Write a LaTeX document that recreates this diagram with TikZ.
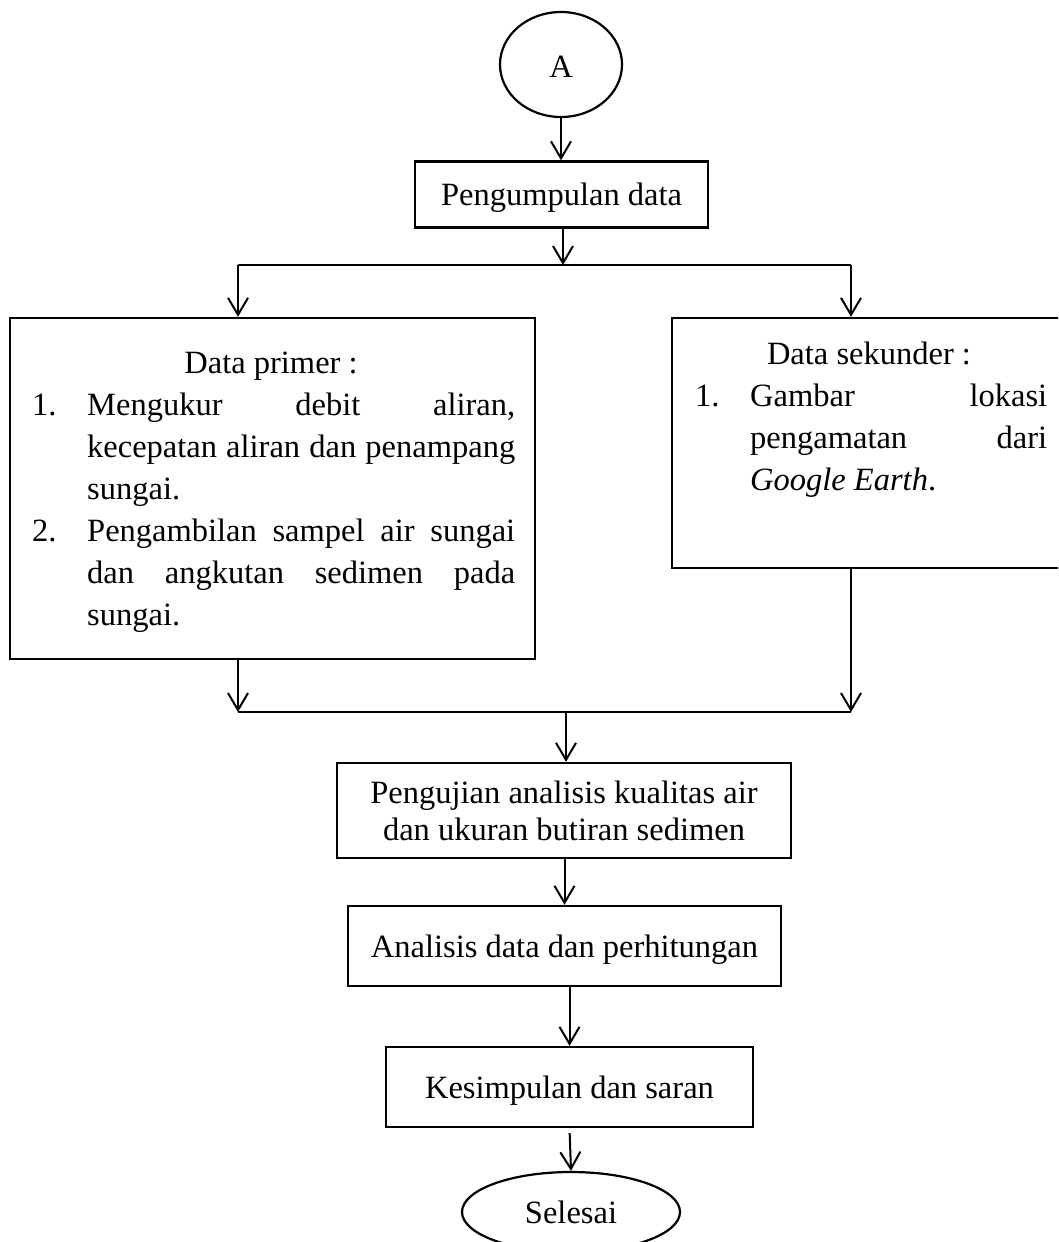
\documentclass[tikz,border=0pt]{standalone}
\usepackage{fontspec}
\setmainfont{Liberation Serif}
\usetikzlibrary{shapes.geometric,arrows.meta}
\tikzset{
  box/.style={draw, line width=2.4pt, rectangle, inner sep=0pt},
  oval/.style={draw, line width=2.2pt, ellipse, inner sep=0pt},
  wordtext/.style={text height=29pt, text depth=7pt},
  arr/.style={line width=2pt, -{Straight Barb[length=17pt,width=20pt]}},
  link/.style={line width=1.6pt},
  txt/.style={inner sep=0pt}
}
\newcommand{\jline}[2]{\makebox[#1][s]{#2}}
\begin{document}
\begin{tikzpicture}[x=1pt,y=-1pt,font=\fontsize{32.5}{42}\selectfont]
\useasboundingbox (0,0) rectangle (1058,1242);
\clip (0,0) rectangle (1058,1242);

% start
\node[oval, minimum width=122pt, minimum height=105pt, text height=33pt, text depth=7pt] (A) at (561,64.5) {A};
\node[box, wordtext, minimum width=293pt, minimum height=66pt] (kumpul) at (561.5,194.5) {Pengumpulan data};

% split
\coordinate (hL) at (238,265);
\coordinate (hR) at (851,265);
\coordinate (hC) at (563,265);

% data boxes
\node[box, minimum width=525pt, minimum height=341pt] (primer) at (272.5,488.5) {};
\node[box, minimum width=398pt, minimum height=250pt] (sekunder) at (871,443) {};

% primer text
\node[txt, anchor=base] (p0) at (271,373) {Data primer :};
\node[txt, anchor=base west] (p1) at (32,415) {\makebox[55pt][l]{1.}\parbox[t]{428pt}{\jline{428pt}{Mengukur debit aliran,}\\\jline{428pt}{kecepatan aliran dan penampang}\\sungai.}};
\node[txt, anchor=base west] (p2) at (32,541) {\makebox[55pt][l]{2.}\parbox[t]{428pt}{\jline{428pt}{Pengambilan sampel air sungai}\\\jline{428pt}{dan angkutan sedimen pada}\\sungai.}};

% sekunder text
\node[txt, anchor=base] (s0) at (869,364) {Data sekunder :};
\node[txt, anchor=base west] (s1) at (695,406) {\makebox[55pt][l]{1.}\parbox[t]{297pt}{\jline{297pt}{Gambar lokasi}\\\jline{297pt}{pengamatan dari}\\\textit{Google Earth}.}};

% merge
\coordinate (mL) at (238,712);
\coordinate (mR) at (851,712);
\coordinate (mC) at (566,712);

% lower chain
\node[box, minimum width=454pt, minimum height=95pt, align=center, font=\fontsize{32.5}{37}\selectfont] (uji) at (564,810.5) {Pengujian analisis kualitas air\\dan ukuran butiran sedimen};
\node[box, wordtext, minimum width=433pt, minimum height=80pt] (analisis) at (564.5,946) {Analisis data dan perhitungan};
\node[box, wordtext, minimum width=367pt, minimum height=80pt] (simpul) at (569.5,1087) {Kesimpulan dan saran};
\node[oval, wordtext, minimum width=218pt, minimum height=80pt] (selesai) at (571,1212) {Selesai};

% connectors
\draw[arr] (A.south) -- (A.south |- kumpul.north);
\draw[arr] (kumpul.south -| hC) -- (hC);
\draw[link] (hL) -- (hR);
\draw[arr] (hL) -- (primer.north -| hL);
\draw[arr] (hR) -- (sekunder.north -| hR);
\draw[arr] (primer.south -| mL) -- (mL);
\draw[arr] (sekunder.south -| mR) -- (mR);
\draw[link] (mL) -- (mR);
\draw[arr] (mC) -- (uji.north -| mC);
\draw[arr] (uji.south -| analisis.north) -- (analisis.north);
\draw[arr] (analisis.south -| simpul.north) -- (simpul.north);
\draw[arr, shorten <=5pt] (simpul.south) -- (selesai.north);
\end{tikzpicture}
\end{document}
